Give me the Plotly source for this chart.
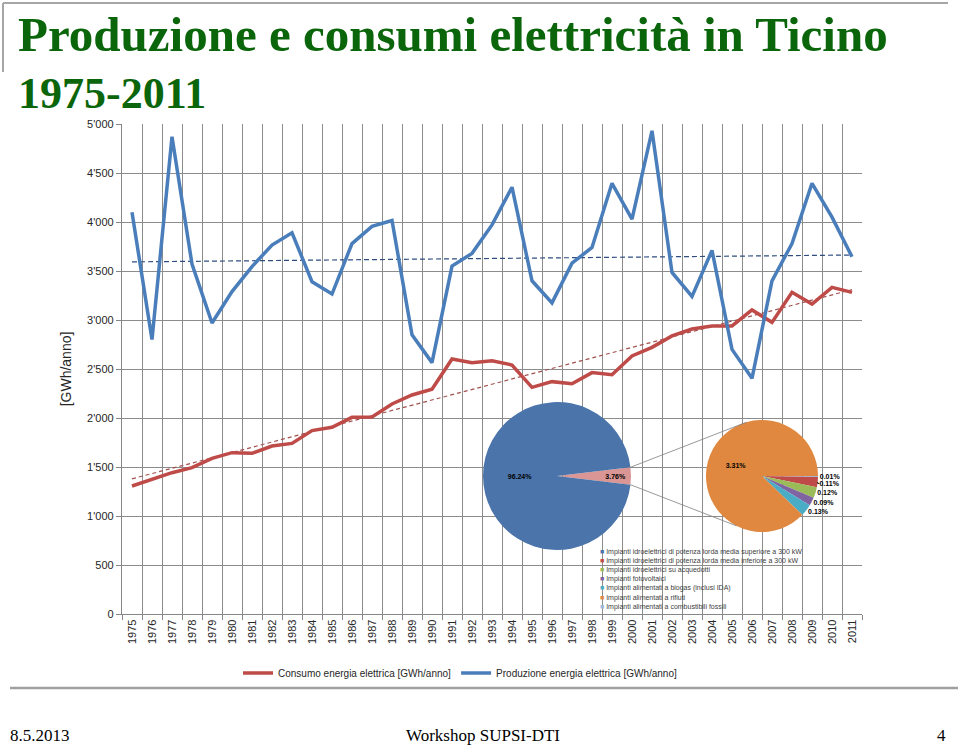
import numpy as np
import plotly.graph_objects as go

# ---------------- data ----------------
years = [str(y) for y in range(1975, 2012)]
produzione = [4100, 2800, 4870, 3570, 2970, 3290, 3545, 3765, 3890, 3390,
              3265, 3780, 3955, 4015, 2850, 2565, 3550, 3680, 3970, 4355,
              3400, 3175, 3580, 3740, 4395, 4030, 4930, 3485, 3240, 3710,
              2700, 2405, 3400, 3780, 4395, 4050, 3645]
consumo = [1306, 1374, 1442, 1493, 1588, 1646, 1640, 1714, 1741, 1871,
           1905, 2007, 2010, 2143, 2235, 2293, 2602, 2565, 2585, 2541,
           2313, 2371, 2350, 2463, 2442, 2633, 2721, 2837, 2908, 2939,
           2939, 3102, 2976, 3282, 3163, 3333, 3282]
series_names = ["Consumo energia elettrica [GWh/anno]",
                "Produzione energia elettrica [GWh/anno]"]

pie1_values = [3.76, 96.24]
pie2_values = [0.01, 0.11, 0.12, 0.09, 0.13, 3.31]
pie_legend = ["Impianti idroelettrici di potenza lorda media superiore a 300 kW",
              "Impianti idroelettrici di potenza lorda media inferiore a 300 kW",
              "Impianti idroelettrici su acquedotti",
              "Impianti fotovoltaici",
              "Impianti alimentati a biogas (inclusi IDA)",
              "Impianti alimentati a rifiuti",
              "Impianti alimentati a combustibili fossili"]
pie_legend_colors = ["#4A74AA", "#BE4B48", "#9BBB59", "#8064A2", "#4BACC6", "#E0883F", "#9DB9DE"]
pie1_colors = ["#D99694", "#4A74AA"]
pie2_colors = ["#9DB9DE", "#BE4B48", "#9BBB59", "#8064A2", "#4BACC6", "#E0883F"]

title_lines = ["Produzione e consumi elettricità in Ticino", "1975-2011"]
footer = ["8.5.2013", "Workshop SUPSI-DTI", "4"]

# ---------------- geometry helpers ----------------
W, H = 960, 747
L, R, T, B = 122, 98, 124, 133
PW, PH = W - L - R, H - T - B


def px(x):
    return (x - L) / PW


def py(y):
    return (H - B - y) / PH


idx = np.arange(len(years))
trend_p = np.polyval(np.polyfit(idx, produzione, 1), idx)
trend_c = np.polyval(np.polyfit(idx, consumo, 1), idx)

fig = go.Figure()

fig.add_trace(go.Scatter(x=years, y=trend_c, mode="lines", showlegend=False,
                         line=dict(color="#A0524F", width=1.2, dash="4px,3px"), hoverinfo="skip"))
fig.add_trace(go.Scatter(x=years, y=trend_p, mode="lines", showlegend=False,
                         line=dict(color="#2E4E80", width=1.2, dash="5px,3px"), hoverinfo="skip"))
fig.add_trace(go.Scatter(x=years, y=consumo, mode="lines", name=series_names[0],
                         line=dict(color="#BE4B48", width=3.5)))
fig.add_trace(go.Scatter(x=years, y=produzione, mode="lines", name=series_names[1],
                         line=dict(color="#4A7EBB", width=3.5)))

# pies
c1x, c1y, r1 = 557, 476, 74
c2x, c2y, r2 = 762, 476, 56
half = pie1_values[0] / 100 * 360 / 2
fig.add_trace(go.Pie(values=pie1_values, sort=False, direction="clockwise",
                     rotation=90 - half, marker=dict(colors=pie1_colors),
                     domain=dict(x=[px(c1x - r1), px(c1x + r1)], y=[py(c1y + r1), py(c1y - r1)]),
                     texttemplate="<b>%{value:.2f}%</b>", textposition="inside",
                     insidetextorientation="horizontal",
                     textfont=dict(size=7, color="black", family="Liberation Sans"),
                     showlegend=False, hoverinfo="skip"))
fig.add_trace(go.Pie(values=pie2_values, sort=False, direction="clockwise",
                     rotation=90, marker=dict(colors=pie2_colors),
                     domain=dict(x=[px(c2x - r2), px(c2x + r2)], y=[py(c2y + r2), py(c2y - r2)]),
                     texttemplate="<b>%{value:.2f}%</b>",
                     textposition=["outside"] * 5 + ["inside"],
                     insidetextorientation="horizontal",
                     textfont=dict(size=7, color="black", family="Liberation Sans"),
                     showlegend=False, hoverinfo="skip"))

# connector lines between pies (from pie geometry)
a = np.radians(half)
a_top, a_bot = np.radians(106), np.radians(-117)
shapes = [
    dict(type="rect", xref="paper", yref="paper", x0=px(478), x1=px(857), y0=py(607), y1=py(397),
         fillcolor="white", line=dict(width=0), layer="between"),
    dict(type="line", xref="paper", yref="paper",
         x0=px(c1x + r1 * np.cos(a)), y0=py(c1y - r1 * np.sin(a)),
         x1=px(c2x + r2 * np.cos(a_top)), y1=py(c2y - r2 * np.sin(a_top)),
         line=dict(color="#7F7F7F", width=0.8)),
    dict(type="line", xref="paper", yref="paper",
         x0=px(c1x + r1 * np.cos(a)), y0=py(c1y + r1 * np.sin(a)),
         x1=px(c2x + r2 * np.cos(a_bot)), y1=py(c2y - r2 * np.sin(a_bot)),
         line=dict(color="#7F7F7F", width=0.8)),
    # slide frame lines
    dict(type="line", xref="paper", yref="paper", x0=px(3), x1=px(948), y0=py(3), y1=py(3),
         line=dict(color="#A6A6A6", width=2)),
    dict(type="line", xref="paper", yref="paper", x0=px(3), x1=px(3), y0=py(3), y1=py(72),
         line=dict(color="#A6A6A6", width=2)),
    dict(type="line", xref="paper", yref="paper", x0=px(10), x1=px(958), y0=py(688), y1=py(688),
         line=dict(color="#A0A0A0", width=2.5)),
]

legend_text = "<br>".join(
    f"<span style='color:{c}'>■</span> {t}" for c, t in zip(pie_legend_colors, pie_legend))

title_font = dict(family="Liberation Serif", size=49, color="#0B650B", weight="bold")
title_font2 = dict(family="Liberation Serif", size=44, color="#0B650B", weight="bold")
foot_font = dict(size=17, color="black", family="Liberation Serif")
annotations = [
    dict(xref="paper", yref="paper", x=px(16), y=py(34), xanchor="left", yanchor="middle",
         text=title_lines[0], showarrow=False, font=title_font),
    dict(xref="paper", yref="paper", x=px(16), y=py(94), xanchor="left", yanchor="middle",
         text=title_lines[1], showarrow=False, font=title_font2),
    dict(xref="paper", yref="paper", x=px(598), y=py(546), xanchor="left", yanchor="top",
         text=legend_text, showarrow=False, align="left",
         font=dict(size=7, color="#404040", family="Liberation Sans")),
    dict(xref="paper", yref="paper", x=px(8), y=py(735), xanchor="left", yanchor="middle",
         text=footer[0], showarrow=False, font=foot_font),
    dict(xref="paper", yref="paper", x=px(483), y=py(735), xanchor="center", yanchor="middle",
         text=footer[1], showarrow=False, font=foot_font),
    dict(xref="paper", yref="paper", x=px(948), y=py(735), xanchor="right", yanchor="middle",
         text=footer[2], showarrow=False, font=foot_font),
]

fig.update_layout(
    width=W, height=H,
    margin=dict(l=L, r=R, t=T, b=B),
    paper_bgcolor="white", plot_bgcolor="white",
    separators=".'",
    xaxis=dict(type="category", tickson="boundaries", ticks="outside", ticklen=5,
               tickcolor="#868686", showgrid=True, gridcolor="#8C8C8C", gridwidth=1.3,
               showline=True, linecolor="#868686", linewidth=1.3, tickangle=-90,
               tickfont=dict(size=11, color="#262626", family="Liberation Sans"),
               range=[-0.5, len(years) - 0.5], mirror=False),
    yaxis=dict(range=[0, 5000], dtick=500, tickformat=",d", ticks="outside", ticklen=5,
               tickcolor="#868686", showgrid=True, gridcolor="#8C8C8C", gridwidth=1.3,
               showline=True, linecolor="#868686", linewidth=1.3, zeroline=False,
               tickfont=dict(size=11, color="#262626", family="Liberation Sans"),
               title=dict(text="[GWh/anno]", standoff=12,
                          font=dict(size=14, color="#262626", family="Liberation Sans"))),
    legend=dict(orientation="h", x=px(460), xanchor="center", y=py(673), yanchor="middle",
                font=dict(size=10, color="#262626", family="Liberation Sans"),
                bgcolor="rgba(0,0,0,0)"),
    shapes=shapes,
    annotations=annotations,
)

fig.write_html("out.html")
